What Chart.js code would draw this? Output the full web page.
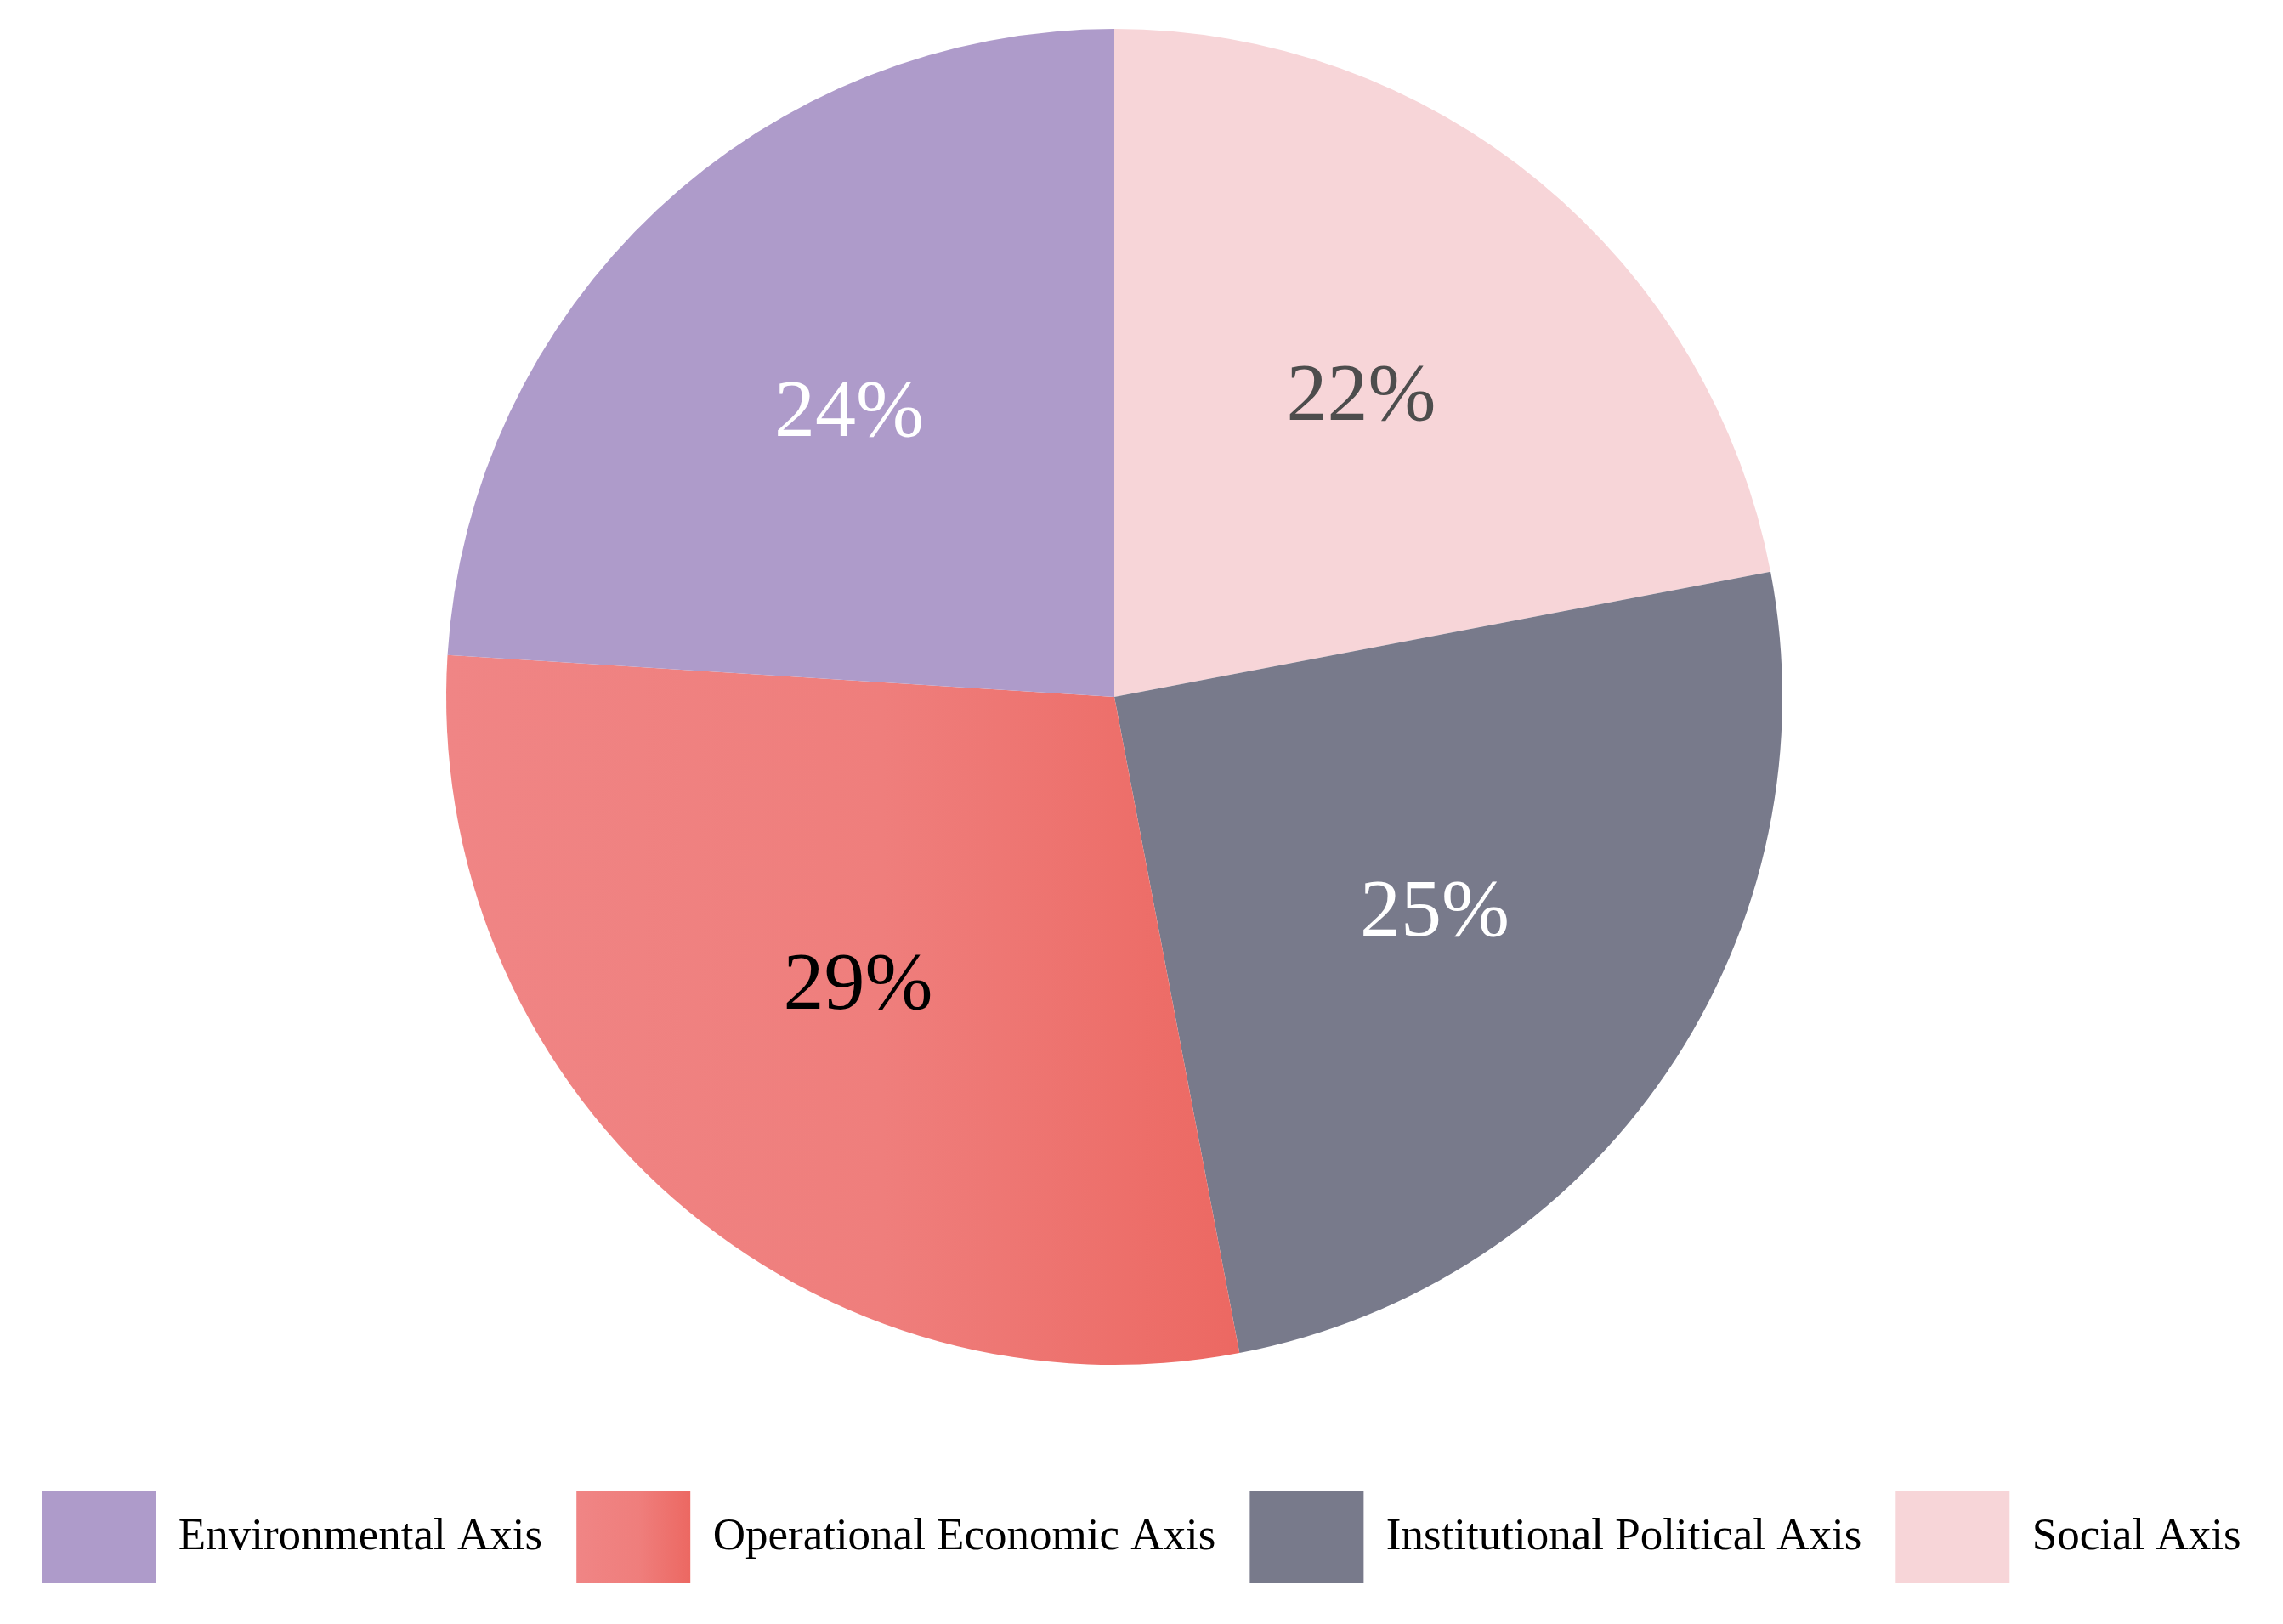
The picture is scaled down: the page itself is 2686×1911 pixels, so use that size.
<!DOCTYPE html>
<html>
<head>
<meta charset="utf-8">
<script src="https://cdn.jsdelivr.net/npm/chart.js@4.4.0/dist/chart.umd.min.js"></script>
<style>
  html, body { margin: 0; padding: 0; background: #fff; }
  canvas { display: block; }
</style>
</head>
<body>
<canvas id="pie-chart" width="2686" height="1911"></canvas>
<script>
// slices in clockwise order starting from 12 o'clock
var categories = ['Social Axis', 'Institutional Political Axis', 'Operational Economic Axis', 'Environmental Axis']
var shares = [22, 25, 29, 24]
var sliceColors = ['#f7d5d8', '#787a8b', null, '#ae9bca']   // null = gradient slice
var gradientStops = ['#f08585', '#ef7e7c', '#ec6862']
var labelColors = ['#4d4d4d', '#ffffff', '#000000', '#ffffff']

var serif = '"Liberation Serif", "DejaVu Serif", serif'

// x of the gradient swatch in the legend, filled in after the first draw
var swatchLeft = null

function makeGradient(ctx, x0, x1) {
    var g = ctx.createLinearGradient(x0, 0, x1, 0)
    g.addColorStop(0, gradientStops[0])
    g.addColorStop(0.55, gradientStops[1])
    g.addColorStop(1, gradientStops[2])
    return g
}

// colore della fetta (gradiente orizzontale per la fetta rossa)
function sliceColor(context) {
    var i = context.dataIndex
    if (sliceColors[i]) return sliceColors[i]
    var area = context.chart.chartArea
    if (!area) return gradientStops[0]
    var cx = (area.left + area.right) / 2
    var r = Math.min(area.right - area.left, area.bottom - area.top) / 2
    return makeGradient(context.chart.ctx, cx - r, cx + r * 0.19)
}

function legendLabels(chart) {
    var items = Chart.overrides.doughnut.plugins.legend.labels.generateLabels(chart)
    items.forEach(function(item) {
        item.lineWidth = 0
        item.strokeStyle = 'rgba(0,0,0,0)'
        if (sliceColors[item.index]) return
        if (swatchLeft === null) {
            item.fillStyle = gradientStops[1]
        } else {
            item.fillStyle = makeGradient(chart.ctx, swatchLeft, swatchLeft + chart.options.plugins.legend.labels.boxWidth)
        }
    })
    return items
}

// percentuali dentro le fette
var percentLabels = {
    id: 'percentLabels',
    afterDatasetsDraw: function(chart) {
        var ctx = chart.ctx
        var meta = chart.getDatasetMeta(0)
        ctx.save()
        ctx.font = '96px ' + serif
        ctx.textAlign = 'center'
        ctx.textBaseline = 'middle'
        meta.data.forEach(function(arc, i) {
            var p = arc.getProps(['x', 'y', 'startAngle', 'endAngle', 'outerRadius'], true)
            var mid = (p.startAngle + p.endAngle) / 2
            var d = p.outerRadius * 0.58
            ctx.fillStyle = labelColors[i]
            ctx.fillText(shares[i] + '%', p.x + Math.cos(mid) * d, p.y + Math.sin(mid) * d)
        })
        ctx.restore()
    }
}

var ctx = document.getElementById('pie-chart').getContext('2d')

var pieChart = new Chart(ctx, {
    type: 'pie',
    data: {
        labels: categories,
        datasets: [{
            data: shares,
            backgroundColor: sliceColor,
            borderWidth: 0
        }]
    },
    options: {
        responsive: false,
        maintainAspectRatio: false,
        devicePixelRatio: 1,
        animation: false,
        layout: { padding: { top: 34, bottom: 38, left: 0, right: 0 } },
        plugins: {
            tooltip: { enabled: false },
            // empty title on the right just to push the pie a bit to the left
            title: {
                display: true,
                position: 'right',
                text: '',
                font: { size: 1, lineHeight: 1 },
                padding: { top: 63, bottom: 0 }
            },
            legend: {
                position: 'bottom',
                title: {
                    display: true,
                    text: '',
                    font: { size: 1, lineHeight: 1 },
                    padding: { top: 108, bottom: 0 }
                },
                labels: {
                    boxWidth: 134,
                    boxHeight: 108,
                    padding: 40,
                    color: '#000000',
                    font: { family: serif, size: 53 },
                    generateLabels: legendLabels,
                    sort: function(a, b) { return b.index - a.index }
                }
            }
        }
    },
    plugins: [percentLabels]
})

// second pass so the legend gradient knows where its swatch is
var lg = pieChart.legend
var k = lg.legendItems.findIndex(function(li) { return sliceColors[li.index] === null })
if (k >= 0 && lg.legendHitBoxes[k]) {
    swatchLeft = lg.legendHitBoxes[k].left
    pieChart.update()
}
</script>
</body>
</html>
